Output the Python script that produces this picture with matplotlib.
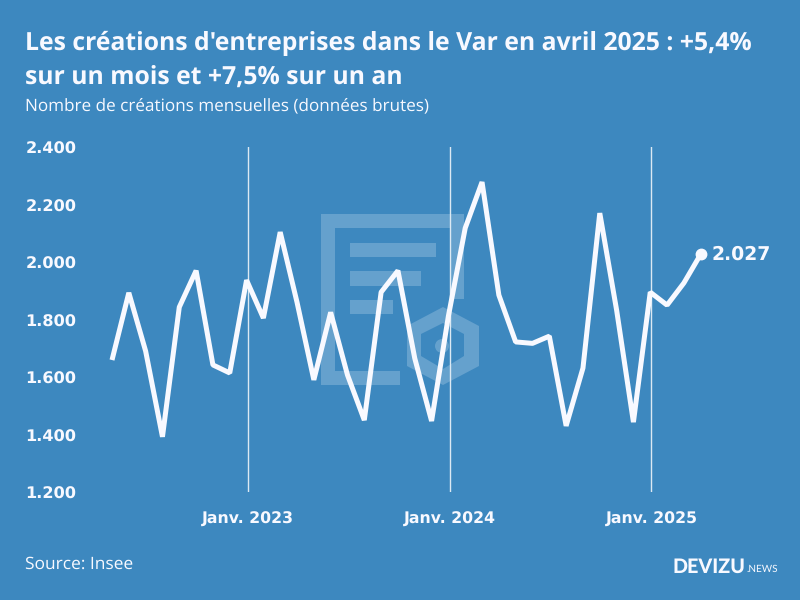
import matplotlib
matplotlib.use("Agg")
import matplotlib.pyplot as plt
from matplotlib.patches import Rectangle, Circle, PathPatch
from matplotlib.path import Path
from matplotlib.transforms import Affine2D, ScaledTranslation
from matplotlib.font_manager import FontProperties

values = [1659, 1893, 1690, 1392, 1843, 1970, 1642, 1614, 1937, 1805, 2104, 1860,
          1590, 1825, 1607, 1450, 1895, 1970, 1665, 1447, 1812, 2118, 2278, 1885,
          1722, 1717, 1742, 1430, 1631, 2170, 1833, 1443, 1895, 1850, 1927, 2027]
month_index = list(range(len(values)))
y_ticks = [1200, 1400, 1600, 1800, 2000, 2200, 2400]
y_labels = ["1.200", "1.400", "1.600", "1.800", "2.000", "2.200", "2.400"]
x_ticks = [8.07, 20.07, 32.07]
x_labels = ["Janv. 2023", "Janv. 2024", "Janv. 2025"]
last_label = "2.027"

BG = "#3D88BF"
FG = "#F8F9FF"
MARK = "#65A1CD"
TITLE_FONT = "Open Sans"
TICK_FONT = "DejaVu Sans"
plt.rcParams["font.family"] = [TITLE_FONT, "DejaVu Sans"]
plt.rcParams["text.hinting"] = "no_hinting"

fig = plt.figure(figsize=(8, 6), dpi=100, facecolor=BG)
W, H = 800, 600

# watermark in pixel coordinates (origin top-left)
px = Affine2D().scale(1, -1).translate(0, H)
def rect(x0, y0, x1, y1):
    fig.add_artist(Rectangle((x0, y0), x1 - x0, y1 - y0, transform=px, fc=MARK, ec="none", zorder=0))
rect(321, 214, 464, 228)
rect(321, 228, 335, 385)
rect(335, 371, 400, 385)
rect(450, 228, 464, 299)
rect(350, 243, 436, 257)
rect(350, 271, 421, 286)
rect(350, 300, 393, 314)
outer = [(443, 307), (479, 326), (479, 366), (443, 385), (407, 366), (407, 326), (443, 307)]
inner = [(443, 323), (421, 334), (421, 356), (443, 369), (464, 356), (464, 334), (443, 323)]
codes = [Path.MOVETO] + [Path.LINETO] * 5 + [Path.CLOSEPOLY]
fig.add_artist(PathPatch(Path(outer + inner, codes + codes), transform=px, fc=MARK, ec="none", zorder=0))
fig.add_artist(Circle((442, 346), 7, transform=px, fc=MARK, ec="none", zorder=0))

x_left, x_right = 100, 720
ax = fig.add_axes([x_left / W, 1 - 492 / H, (x_right - x_left) / W, 345 / H])
ax.patch.set_alpha(0)
px_per_month = 16.82
ax.set_xlim(-(112 - x_left) / px_per_month, (x_right - 112) / px_per_month)
ax.set_ylim(1200, 2400)
for s in ax.spines.values():
    s.set_visible(False)

ax.set_yticks(y_ticks)
ax.set_yticklabels(y_labels, fontproperties=FontProperties(family=TICK_FONT, weight="bold", size=11.6), color=FG)
ax.set_xticks(x_ticks)
ax.set_xticklabels(x_labels, fontproperties=FontProperties(family=TICK_FONT, weight="bold", size=11.3), color=FG)
ax.tick_params(axis="both", length=0)
ax.tick_params(axis="y", pad=17)
ax.tick_params(axis="x", pad=14.5)
for lab in ax.get_yticklabels():
    lab.set_transform(lab.get_transform() + ScaledTranslation(0, -1 / 100, fig.dpi_scale_trans))
ax.grid(axis="x", color="#DCE9F3", lw=1)
ax.set_axisbelow(True)

ax.plot(month_index, values, color=FG, lw=3.6, solid_joinstyle="bevel", solid_capstyle="butt", clip_on=False)
ax.plot(month_index[-1], values[-1], "o", color=FG, ms=7.5, clip_on=False)
ax.annotate(last_label, (month_index[-1], values[-1]), xytext=(8, 0), textcoords="offset points",
            va="center", ha="left", color=FG,
            fontproperties=FontProperties(family=TICK_FONT, weight="bold", size=13.5))

bold = FontProperties(family=TITLE_FONT, weight="bold", size=17.8)
regular = FontProperties(family=TITLE_FONT, weight="normal", size=12.33)
source = FontProperties(family=TITLE_FONT, weight="normal", size=12.5)
fig.text(25 / W, 1 - 43.5 / H, "Les créations d'entreprises dans le Var en avril 2025 : +5,4%",
         fontproperties=bold, color=FG, va="center")
fig.text(25 / W, 1 - 77.5 / H, "sur un mois et +7,5% sur un an",
         fontproperties=bold, color=FG, va="center")
fig.text(25 / W, 1 - 105.5 / H, "Nombre de créations mensuelles (données brutes)",
         fontproperties=regular, color=FG, va="center")
fig.text(25 / W, 1 - 564 / H, "Source: Insee", fontproperties=source, color=FG, va="center")
fig.text(673 / W, 1 - 567 / H, "DEVIZU", fontsize=14.2, fontweight="black", color=FG, va="center", family="Lato")
fig.text(746 / W, 1 - 569.5 / H, ".NEWS", fontsize=7.2, color=FG, va="center", family="Lato")

fig.savefig("out.png", dpi=100, facecolor=BG)
